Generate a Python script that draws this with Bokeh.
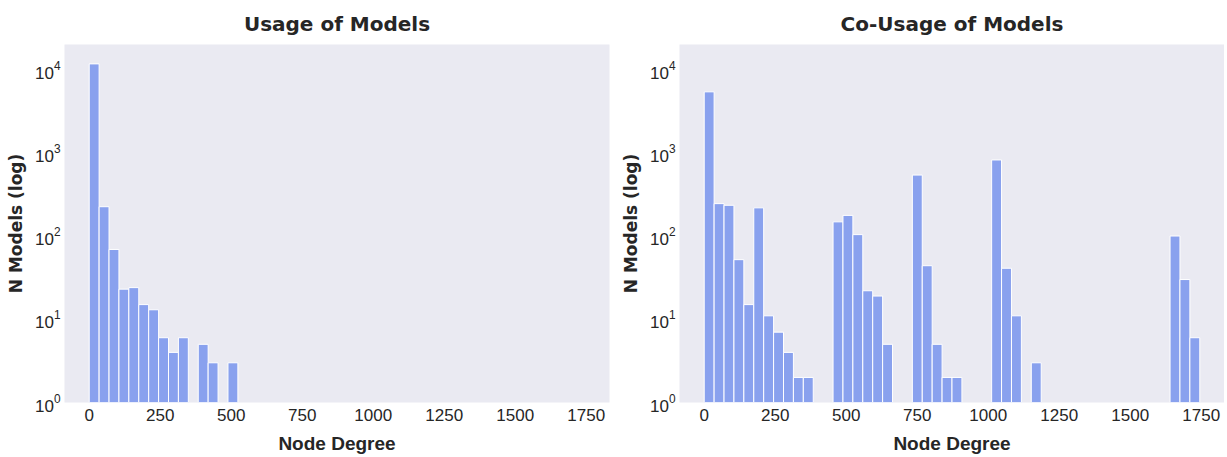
import numpy as np
from bokeh.plotting import figure
from bokeh.layouts import row
from bokeh.models import Range1d, FixedTicker, LogTickFormatter
from bokeh.embed import file_html
from bokeh.resources import INLINE

# ---- data ----
degree_min = 0.0
degree_max = 1745.0
n_bins = 50

usage_counts = [11700, 225, 69, 23, 24, 15, 13, 6, 4, 6,
                0, 5, 3, 0, 3, 0, 0, 0, 0, 0,
                0, 0, 0, 0, 0, 0, 0, 0, 0, 0,
                0, 0, 0, 0, 0, 0, 0, 0, 0, 0,
                0, 0, 0, 0, 0, 0, 0, 0, 0, 0]

cousage_counts = [5400, 245, 234, 52, 15, 218, 11, 7, 4, 2,
                  2, 0, 0, 148, 177, 104, 22, 19, 5, 0,
                  0, 540, 44, 5, 2, 2, 0, 0, 0, 820,
                  41, 11, 0, 3, 0, 0, 0, 0, 0, 0,
                  0, 0, 0, 0, 0, 0, 0, 100, 30, 6]

x_ticks = [0, 250, 500, 750, 1000, 1250, 1500, 1750]
titles = ["Usage of Models", "Co-Usage of Models"]

BAR = "#89a1ee"
BG = "#eaeaf2"
TXT = "#262626"
TICK_FONT = "Liberation Sans"
BOLD_FONT = "DejaVu Sans"
XLABEL_FONT = "Liberation Sans"

edges = np.linspace(degree_min, degree_max, n_bins + 1)


def make_panel(title, counts, left_border, right_border):
    p = figure(
        title=title,
        y_axis_type="log",
        x_range=Range1d(-87, 1832),
        y_range=Range1d(1, 20000),
        frame_width=545,
        frame_height=358,
        min_border_left=left_border,
        min_border_right=right_border,
        min_border_top=43,
        min_border_bottom=47,
        output_backend="svg",
        toolbar_location=None,
        background_fill_color=BG,
        border_fill_color="white",
    )
    c = np.array(counts, dtype=float)
    mask = c > 0
    p.quad(left=edges[:-1][mask], right=edges[1:][mask],
           bottom=1, top=c[mask],
           fill_color=BAR, line_color="white", line_width=1.0)

    p.outline_line_color = None
    p.xgrid.visible = False
    p.ygrid.visible = False

    p.title.align = "center"
    p.title.text_font = BOLD_FONT
    p.title.text_font_style = "bold"
    p.title.text_font_size = "20px"
    p.title.text_color = TXT
    p.title.standoff = 18

    for ax in (p.xaxis[0], p.yaxis[0]):
        ax.axis_line_color = None
        ax.major_tick_line_color = None
        ax.minor_tick_line_color = None
        ax.major_tick_out = 0
        ax.major_tick_in = 0
        ax.minor_tick_out = 0
        ax.minor_tick_in = 0
        ax.major_label_text_font = TICK_FONT
        ax.major_label_text_font_size = "17px"
        ax.major_label_text_color = TXT
        ax.axis_label_text_color = TXT
        ax.axis_label_text_font_style = "bold"

    p.xaxis.ticker = FixedTicker(ticks=x_ticks)
    p.xaxis.axis_label = "Node Degree"
    p.xaxis.axis_label_text_font = XLABEL_FONT
    p.xaxis.axis_label_text_font_size = "19px"
    p.xaxis.major_label_standoff = 6
    p.xaxis.axis_label_standoff = 9

    p.yaxis.ticker = FixedTicker(ticks=[1, 10, 100, 1000, 10000])
    p.yaxis.formatter = LogTickFormatter()
    p.yaxis.axis_label = "N Models (log)"
    p.yaxis.axis_label_text_font = BOLD_FONT
    p.yaxis.axis_label_text_font_size = "17px"
    p.yaxis.major_label_standoff = 4
    p.yaxis.axis_label_standoff = 6
    return p


p1 = make_panel(titles[0], usage_counts, 64, 8)
p2 = make_panel(titles[1], cousage_counts, 57, 0)

layout = row(p1, p2)
open("out.html", "w").write(file_html(layout, INLINE))
